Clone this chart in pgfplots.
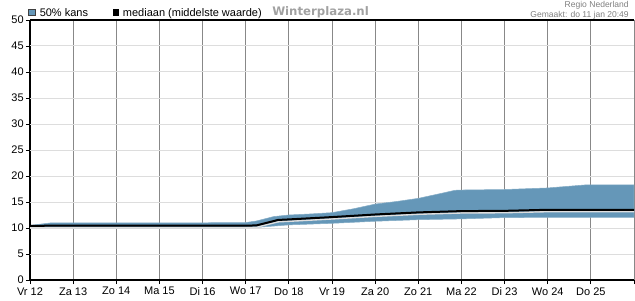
\documentclass[border=0pt]{standalone}
\usepackage{fontspec}
\setmainfont{Liberation Sans}
\newfontfamily\wpfont{DejaVu Sans}
\usepackage{pgfplots}
\pgfplotsset{compat=1.18}
\definecolor{band}{RGB}{101,151,184}
\definecolor{vgrid}{RGB}{136,136,136}
\definecolor{hgrid}{RGB}{221,221,221}
\begin{document}
\begin{tikzpicture}[x=0.75pt,y=0.75pt]
\path[use as bounding box] (-30,-20) rectangle (605,280);
\begin{axis}[
  at={(0,0)}, anchor=south west,
  scale only axis, width=453pt, height=195pt,
  xmin=0, xmax=14, ymin=0, ymax=50,
  axis x line*=box, axis y line*=left,
  axis line style={black, line width=0.9pt},
  xtick={0,...,14},
  xticklabels={Vr 12,Za 13,Zo 14,Ma 15,Di 16,Wo 17,Do 18,Vr 19,Za 20,Zo 21,Ma 22,Di 23,Wo 24,Do 25,},
  ytick={0,5,...,50},
  xtick pos=left, ytick pos=left,
  tick align=outside, major tick length=3pt,
  every tick/.style={black, line width=0.6pt},
  extra y ticks={5,10,...,45},
  extra y tick labels={},
  extra y tick style={grid=major, major grid style={hgrid, line width=0.75pt}, tick style={draw=none}},
  xmajorgrids, major x grid style={vgrid, line width=0.75pt},
  ymajorgrids=false,
  ticklabel style={font=\fontsize{8.25pt}{9pt}\selectfont},
  /pgf/number format/assume math mode=true,
  xticklabel style={inner sep=1.5pt, yshift=-0.8pt},
  yticklabel style={inner sep=1.5pt},
  clip=true,
]
% 50% band (upper edge left to right, lower edge right to left)
\addplot[fill=band, draw=band!80!white, line width=0.4pt] coordinates {
  (0,10.5) (0.5,11.0) (1,11.0) (2,11.0) (3,11.0) (4,11.0) (5,11.05) (5.25,11.35) (5.65,12.2) (6,12.5) (6.5,12.7) (7,12.95)
  (7.5,13.7) (8,14.6) (8.5,15.1) (9,15.7) (9.5,16.6) (9.85,17.25) (10,17.3) (11,17.4) (12,17.7) (12.9,18.3) (14,18.3)
  (14,12.05) (13,12.05) (12,12.05) (11,12.0) (10,11.75) (9,11.6) (8,11.3) (7,10.9) (6,10.6) (5.3,10.15) (5,10.05)
  (4,10.05) (3,10.05) (2,10.05) (1,10.05) (0,10.1)
} -- cycle;
% median shadow
\addplot[white!75!gray, line width=1.1pt, yshift=-1.4pt] coordinates {
  (0,10.4) (0.5,10.45) (1,10.45) (5,10.45) (5.25,10.5) (5.75,11.55) (6,11.65) (7,12.1) (8,12.6) (9,13.0) (10,13.25) (11,13.3) (12,13.5) (13,13.5) (14,13.5)
};
% median
\addplot[black, line width=1.5pt] coordinates {
  (0,10.4) (0.5,10.45) (1,10.45) (5,10.45) (5.25,10.5) (5.75,11.55) (6,11.65) (7,12.1) (8,12.6) (9,13.0) (10,13.25) (11,13.3) (12,13.5) (13,13.5) (14,13.5)
};
\end{axis}
% legend
\filldraw[fill=band, draw=black!75, line width=0.5pt] (-1.3,264.2) rectangle (5.3,270.8);
\node[anchor=base west, inner sep=0, font=\fontsize{8.25pt}{9pt}\selectfont] at (9.5,263.8) {50\% kans};
\fill[black] (82.7,264) rectangle (89.3,271);
\node[anchor=base west, inner sep=0, font=\fontsize{8.25pt}{9pt}\selectfont] at (92.7,263.8) {mediaan (middelste waarde)};
\node[anchor=base west, inner sep=0, font=\wpfont\bfseries\fontsize{8.8pt}{9pt}\selectfont, text=black!37] at (242,264) {Winterplaza.nl};
\node[anchor=base east, inner sep=0, font=\fontsize{6.4pt}{7pt}\selectfont, text=black!50] at (599,272) {Regio Nederland};
\node[anchor=base east, inner sep=0, font=\fontsize{6.4pt}{7pt}\selectfont, text=black!50] at (599,262.7) {Gemaakt: do 11 jan 20:49};
\end{tikzpicture}
\end{document}
